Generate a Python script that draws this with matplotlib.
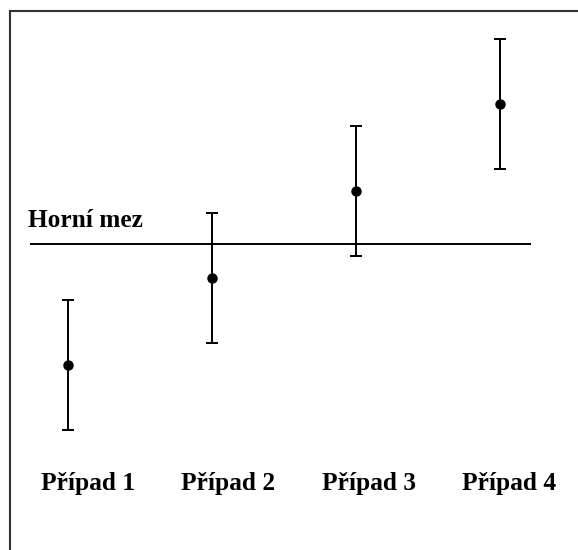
import numpy as np
import matplotlib
matplotlib.use("Agg")
import matplotlib.pyplot as plt

cases = [1, 2, 3, 4]
labels = ["Případ 1", "Případ 2", "Případ 3", "Případ 4"]
values = [1.0, 2.0, 3.0, 4.0]
errors = [0.75, 0.75, 0.75, 0.75]
limit = 2.39

fig = plt.figure(figsize=(5.78, 5.50), dpi=100)
ax = fig.add_axes([10/578, 0, 1 - 10/578, 1 - 11/550])
ax.set_xlim(0.597, 4.542)
ax.set_ylim(-1.126, 5.069)

ax.errorbar(cases, values, yerr=errors, fmt='o', color='black',
            ms=6.5, lw=1.4, capsize=4.6, capthick=1.4)
ax.hlines(limit, 0.736, 4.215, color='black', lw=1.4)

font = dict(family='Liberation Serif', fontweight='bold', fontsize=18.3)
ax.text(0.72, limit + 0.2, "Horní mez", ha='left', va='baseline', **font)
for i, lab in enumerate(labels):
    ax.text(0.8125 + i*0.975, -0.44, lab, ha='left', va='baseline', **font)

for s in ['right', 'bottom']:
    ax.spines[s].set_visible(False)
for s in ['top', 'left']:
    ax.spines[s].set_color('#333333')
    ax.spines[s].set_linewidth(1.5)
ax.set_xticks([])
ax.set_yticks([])

fig.savefig("out.png", dpi=100)
